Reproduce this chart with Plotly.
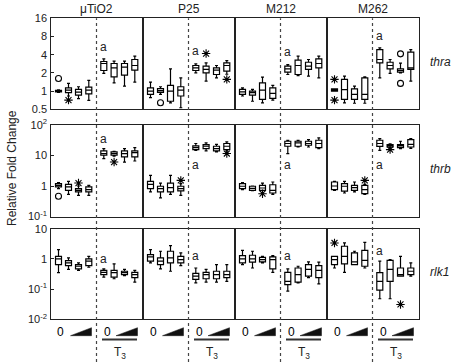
import math
import plotly.graph_objects as go

# ---------------- data ----------------
MATERIALS = ["μTiO2", "P25", "M212", "M262"]
GENES = ["thra", "thrb", "rlk1"]

# thra: [material][box] ; boxes 1-4 = 0..high dose, boxes 5-8 = same + T3
thra_lo = [[0.95, 0.83, 0.75, 0.70, 1.96, 1.37, 1.21, 1.41],
           [0.78, 0.88, 0.64, 0.53, 2.00, 1.46, 1.66, 1.90],
           [0.83, 0.68, 0.64, 0.71, 1.88, 1.80, 1.77, 1.66],
           [1.00, 0.64, 0.63, 0.63, 1.66, 1.96, 2.00, 1.46]]
thra_q1 = [[0.97, 0.94, 0.86, 0.90, 2.19, 1.72, 1.84, 2.22],
           [0.88, 0.95, 0.68, 0.83, 2.19, 2.00, 1.88, 2.14],
           [0.88, 0.86, 0.73, 0.76, 2.06, 1.88, 2.28, 2.42],
           [1.00, 0.73, 0.73, 0.73, 2.93, 2.33, 2.06, 2.28]]
thra_med = [[1.00, 1.04, 0.96, 1.04, 2.86, 2.43, 2.49, 2.65],
            [1.00, 1.02, 1.00, 1.04, 2.43, 2.28, 2.22, 2.65],
            [0.97, 0.94, 1.04, 0.92, 2.33, 2.65, 2.59, 2.86],
            [1.04, 1.06, 0.88, 0.88, 3.33, 2.65, 2.19, 2.43]]
thra_q3 = [[1.03, 1.13, 1.07, 1.16, 3.09, 2.86, 2.86, 3.33],
           [1.13, 1.10, 1.24, 1.18, 2.65, 2.59, 2.43, 2.93],
           [1.07, 1.00, 1.37, 1.13, 2.59, 3.25, 3.00, 3.41],
           [1.09, 1.56, 1.09, 1.66, 4.87, 3.00, 2.33, 4.40]]
thra_hi = [[1.05, 1.34, 1.18, 1.50, 3.42, 3.13, 3.13, 3.78],
           [1.41, 1.18, 2.33, 1.66, 2.83, 2.93, 2.65, 3.20],
           [1.13, 1.07, 1.70, 1.24, 2.75, 3.78, 3.33, 3.78],
           [1.09, 1.77, 1.21, 1.72, 5.20, 3.33, 2.90, 4.87]]

thrb_lo = [[0.82, 0.53, 0.49, 0.49, 7.9, 9.6, 6.1, 6.6],
           [0.64, 0.41, 0.53, 0.49, 14.8, 14.1, 13.1, 14.0],
           [0.76, 0.70, 0.60, 0.53, 11.5, 19.0, 19.0, 16.8],
           [0.72, 0.59, 0.64, 0.53, 14.8, 18.0, 16.8, 17.0]]
thrb_q1 = [[0.93, 0.72, 0.64, 0.64, 10.2, 10.2, 9.0, 9.0],
           [0.82, 0.64, 0.64, 0.69, 15.5, 16.8, 14.1, 15.5],
           [0.82, 0.72, 0.72, 0.59, 20.1, 20.1, 21.7, 18.1],
           [0.76, 0.68, 0.72, 0.56, 20.0, 19.0, 18.1, 19.0]]
thrb_med = [[1.05, 0.93, 0.72, 0.76, 11.5, 11.5, 11.5, 12.4],
            [1.13, 0.82, 0.88, 0.82, 18.1, 20.1, 16.8, 20.1],
            [0.98, 0.84, 0.86, 0.72, 24.7, 25.8, 24.7, 24.7],
            [1.00, 0.98, 0.88, 0.76, 24.7, 21.0, 20.6, 23.3]]
thrb_q3 = [[1.19, 1.13, 0.82, 0.93, 14.1, 13.1, 14.1, 14.1],
           [1.42, 0.98, 1.25, 0.98, 20.6, 22.8, 20.1, 24.7],
           [1.19, 0.98, 1.05, 1.10, 29.3, 29.3, 29.3, 31.6],
           [1.35, 1.19, 1.05, 1.05, 31.6, 22.8, 22.8, 33.0]]
thrb_hi = [[1.29, 1.42, 1.00, 1.05, 16.8, 13.8, 16.8, 18.1],
           [2.24, 1.25, 2.24, 1.19, 24.7, 25.8, 23.3, 27.8],
           [1.29, 1.00, 1.25, 1.35, 31.6, 31.6, 33.0, 37.7],
           [1.42, 1.42, 1.35, 1.13, 36.0, 24.0, 29.3, 36.0]]

rlk1_lo = [[0.35, 0.45, 0.42, 0.53, 0.25, 0.22, 0.28, 0.17],
           [0.74, 0.47, 0.39, 0.60, 0.16, 0.17, 0.17, 0.18],
           [0.65, 0.50, 0.74, 0.36, 0.086, 0.16, 0.24, 0.15],
           [0.50, 0.36, 0.65, 0.50, 0.048, 0.048, 0.27, 0.27]]
rlk1_q1 = [[0.65, 0.60, 0.47, 0.60, 0.30, 0.25, 0.30, 0.24],
           [0.84, 0.65, 0.74, 0.74, 0.21, 0.22, 0.22, 0.24],
           [0.74, 0.78, 0.80, 0.47, 0.14, 0.17, 0.27, 0.24],
           [0.65, 0.68, 0.65, 0.57, 0.093, 0.18, 0.27, 0.30]]
rlk1_med = [[1.00, 0.74, 0.57, 0.84, 0.36, 0.35, 0.35, 0.30],
            [1.16, 0.84, 1.08, 0.95, 0.27, 0.30, 0.30, 0.30],
            [1.00, 1.00, 0.95, 0.95, 0.18, 0.30, 0.45, 0.42],
            [0.95, 1.22, 0.80, 0.90, 0.18, 0.45, 0.30, 0.39]]
rlk1_q3 = [[1.22, 0.88, 0.65, 1.00, 0.42, 0.42, 0.39, 0.36],
           [1.39, 1.08, 1.79, 1.22, 0.33, 0.36, 0.39, 0.39],
           [1.29, 1.32, 1.13, 1.16, 0.36, 0.50, 0.65, 0.60],
           [1.22, 2.62, 1.58, 1.93, 0.35, 0.90, 0.50, 0.50]]
rlk1_hi = [[2.03, 1.08, 0.74, 1.22, 0.47, 0.68, 0.45, 0.42],
           [2.03, 1.79, 2.75, 1.58, 0.50, 0.45, 0.65, 0.65],
           [1.93, 1.79, 1.22, 1.29, 0.47, 0.57, 0.80, 0.78],
           [1.22, 3.37, 1.79, 3.50, 0.84, 0.95, 1.22, 0.74]]

# outliers: gene row, material col, box index, value, kind
out_gene = [0, 0, 0, 0, 0, 0, 0, 0, 0, 1, 1, 1, 1, 1, 1, 1, 1, 2, 2]
out_mat = [0, 0, 1, 1, 1, 3, 3, 3, 3, 0, 0, 0, 1, 1, 2, 3, 3, 3, 3]
out_box = [0, 1, 1, 5, 7, 0, 0, 6, 6, 0, 2, 5, 3, 7, 2, 3, 5, 0, 6]
out_val = [1.62, 0.71, 0.64, 4.18, 1.56, 1.56, 0.71, 4.13, 1.34,
           0.46, 1.25, 6.1, 1.53, 11.6, 0.56, 1.53, 15.6, 3.37, 0.031]
out_kind = ["o", "*", "o", "*", "*", "*", "*", "o", "o",
            "o", "*", "*", "*", "*", "*", "*", "*", "*", "*"]

# significance letter "a" heights (per gene, per material)
a_thra = [5.3, 4.57, 4.45, 8.1]
a_thrb = [36, 4.8, 4.8, 4.8]
a_rlk1 = [1.0, 1.29, 1.29, 1.79]

# axis ticks
thra_ticks = [0.5, 1, 2, 4, 8, 16]
thra_ticktext = ["0.5", "1", "2", "4", "8", "16"]
thrb_ticks = [0.1, 1, 10, 100]
thrb_ticktext = ["10<sup>-1</sup>", "1", "10", "10<sup>2</sup>"]
rlk1_ticks = [0.01, 0.1, 1, 10]
rlk1_ticktext = ["10<sup>-2</sup>", "10<sup>-1</sup>", "1", "10"]

STATS = {
    "thra": (thra_lo, thra_q1, thra_med, thra_q3, thra_hi),
    "thrb": (thrb_lo, thrb_q1, thrb_med, thrb_q3, thrb_hi),
    "rlk1": (rlk1_lo, rlk1_q1, rlk1_med, rlk1_q3, rlk1_hi),
}
A_LET = {"thra": a_thra, "thrb": a_thrb, "rlk1": a_rlk1}
TICKS = {"thra": (thra_ticks, thra_ticktext, 0.5, 16),
         "thrb": (thrb_ticks, thrb_ticktext, 0.1, 100),
         "rlk1": (rlk1_ticks, rlk1_ticktext, 0.01, 10)}

# ---------------- geometry / style ----------------
W, H = 454, 362
LEFT, CW = 50.5, 92.0
ROW_TOP = [18.3, 125.0, 228.7]
ROW_BOT = [109.3, 216.5, 319.3]
POS = [8, 18, 28, 38.3, 53.3, 63.6, 74, 84.3]
FONT = "Liberation Sans, Arial, sans-serif"
INK = "#222"


def py(p):
    return 1 - p / H


def px(c, rel):
    return (LEFT + CW * c + rel) / W


fig = go.Figure()
layout = dict(width=W, height=H, autosize=False,
              margin=dict(l=0, r=0, t=0, b=0, pad=0, autoexpand=False),
              paper_bgcolor="white", plot_bgcolor="white",
              showlegend=False, font=dict(family=FONT, size=11, color=INK))
annotations = []
shapes = []


def axname(k, a):
    return a if k == 1 else f"{a}{k}"


def note(text, xref, yref, x, y, size=12, color=INK, **kw):
    d = dict(text=text, xref=xref, yref=yref, x=x, y=y, showarrow=False,
             xanchor="center", yanchor="middle",
             font=dict(family=FONT, size=size, color=color))
    d.update(kw)
    annotations.append(d)


for r, gene in enumerate(GENES):
    lo, q1, med, q3, hi = STATS[gene]
    tv, tt, ymin, ymax = TICKS[gene]
    for c, mat in enumerate(MATERIALS):
        k = r * 4 + c + 1
        xa, ya = axname(k, "x"), axname(k, "y")
        fig.add_trace(go.Box(
            x=POS, q1=q1[c], median=med[c], q3=q3[c],
            lowerfence=lo[c], upperfence=hi[c],
            width=6, fillcolor="white", orientation="v",
            line=dict(color="black", width=1.2), boxpoints=False,
            hoverinfo="skip", xaxis=xa, yaxis=ya))
        for kind, sym, size in (("o", "circle-open", 6), ("*", "asterisk-open", 7)):
            sel = [(POS[b], v) for g, m, b, v, kd in
                   zip(out_gene, out_mat, out_box, out_val, out_kind)
                   if g == r and m == c and kd == kind]
            if sel:
                fig.add_trace(go.Scatter(
                    x=[s[0] for s in sel], y=[s[1] for s in sel],
                    mode="markers", xaxis=xa, yaxis=ya, hoverinfo="skip",
                    marker=dict(symbol=sym, size=size, color="black",
                                line=dict(color="black", width=1.1))))
        layout[axname(k, "xaxis")] = dict(
            domain=[px(c, 0), px(c, CW)],
            anchor=ya, range=[0, CW], showgrid=False, zeroline=False,
            showticklabels=False, ticks="", showline=True, mirror=True,
            linecolor=INK, linewidth=1.4, fixedrange=True, automargin=False)
        layout[axname(k, "yaxis")] = dict(
            domain=[py(ROW_BOT[r]), py(ROW_TOP[r])], anchor=xa, type="log",
            range=[math.log10(ymin), math.log10(ymax)],
            tickvals=tv, ticktext=tt, showticklabels=(c == 0),
            ticks="inside" if c == 0 else "", ticklen=3, tickcolor=INK,
            showgrid=False, zeroline=False, showline=True, mirror=True,
            linecolor=INK, linewidth=1.4, fixedrange=True, automargin=False,
            tickfont=dict(family=FONT, size=11, color=INK))
        note("a", xa, ya, POS[4], math.log10(A_LET[gene][c]))
    note(f"<i>{gene}</i>", "paper", "paper", 428 / W,
         py((ROW_TOP[r] + ROW_BOT[r]) / 2 - 2), xanchor="left")

for c, mat in enumerate(MATERIALS):
    note(mat, "paper", "paper", px(c, CW / 2), py(9.5))
    # dotted divider through all rows
    shapes.append(dict(type="line", xref="paper", yref="paper",
                       x0=px(c, CW / 2), x1=px(c, CW / 2),
                       y0=0, y1=py(ROW_TOP[0]),
                       line=dict(color="#444", width=1.2, dash="dot")))
    for x0 in (10.5, 56.5):
        note("0", "paper", "paper", px(c, x0), py(331.5), color="#000")
    for a0, a1 in ((20.0, 41.0), (65.5, 87.0)):
        shapes.append(dict(type="path", xref="paper", yref="paper",
                           path=(f"M {px(c, a0)},{py(335.7)} L {px(c, a1)},{py(335.7)} "
                                 f"L {px(c, a1)},{py(327.7)} Z"),
                           fillcolor="#111", line=dict(color="#111", width=0.5)))
    shapes.append(dict(type="line", xref="paper", yref="paper",
                       x0=px(c, 51.5), x1=px(c, 86.5),
                       y0=py(339.5), y1=py(339.5), line=dict(color="#333", width=2)))
    note("T<sub>3</sub>", "paper", "paper", px(c, 69.5), py(353))

note("Relative Fold Change", "paper", "paper", 12 / W, py(168), textangle=-90)

layout["annotations"] = annotations
layout["shapes"] = shapes
fig.update_layout(**layout)
fig.write_html(
    "out.html",
    config={"responsive": False, "displayModeBar": False},
    post_script="document.body.style.margin='0px';document.body.style.padding='0px';"
                "document.body.style.overflow='hidden';",
)
